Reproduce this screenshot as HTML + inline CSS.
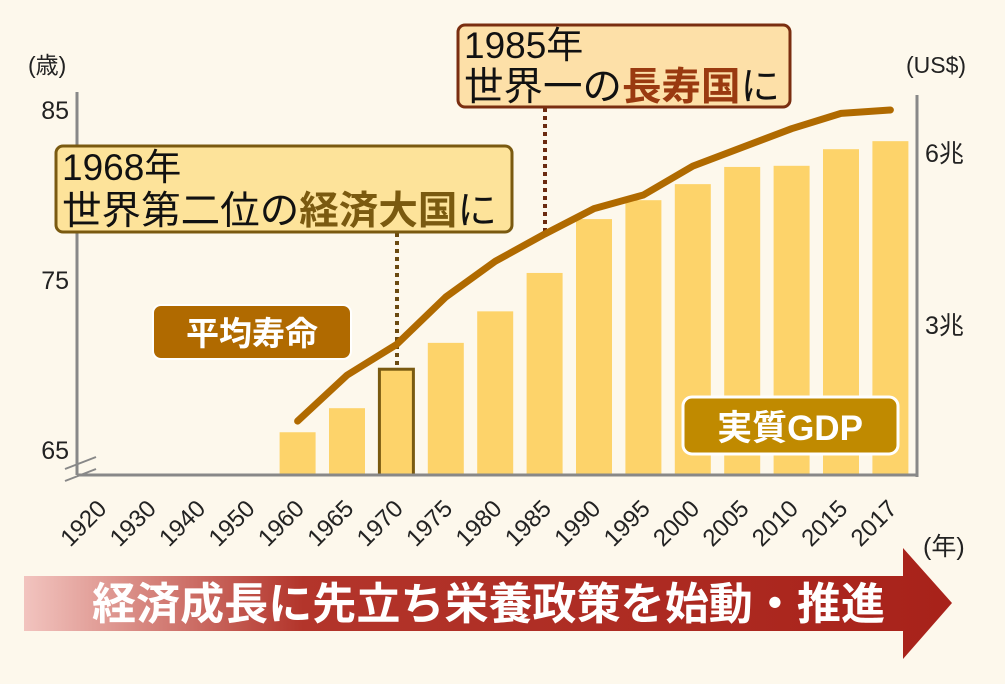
<!DOCTYPE html>
<html><head><meta charset="utf-8"><style>
html,body{margin:0;padding:0;background:#fdf8ec;}
svg{display:block;font-family:"Liberation Sans","Noto Sans CJK JP",sans-serif;}
</style></head><body>
<svg id="c" width="1005" height="684" viewBox="0 0 1005 684">
<defs>
<linearGradient id="ag" x1="0" x2="1" y1="0" y2="0">
<stop offset="0" stop-color="#f2c4bf"/><stop offset="0.3" stop-color="#b3352b"/><stop offset="1" stop-color="#a8221a"/>
</linearGradient>
</defs>
<rect width="1005" height="684" fill="#fdf8ec"/>
<g id="bars"></g>
<g id="grid"></g>
<line x1="77" y1="92" x2="77" y2="475" stroke="#888" stroke-width="3"/>
<line x1="917" y1="95" x2="917" y2="477" stroke="#888" stroke-width="3"/>
<line x1="77" y1="475" x2="918" y2="475" stroke="#888" stroke-width="3"/>
<line x1="65" y1="469" x2="96" y2="457" stroke="#888" stroke-width="2"/>
<line x1="65" y1="481" x2="96" y2="469" stroke="#888" stroke-width="2"/>
<text x="28" y="73" font-size="23" fill="#222">(歳)</text>
<text x="906" y="73" font-size="23" fill="#222">(US$)</text>
<text x="923" y="555" font-size="25" fill="#222">(年)</text>
<g id="dots">
<line x1="397" y1="233" x2="397" y2="367" stroke="#6b4a10" stroke-width="4" stroke-dasharray="4,4"/>
<line x1="545" y1="108" x2="545" y2="235" stroke="#6b2a10" stroke-width="4" stroke-dasharray="4,4"/>
</g>
<g id="line"></g>
<g>
<rect x="56" y="146" width="456" height="86" rx="7" fill="#fde39a" stroke="#7a5a10" stroke-width="3"/>
<text x="62" y="180" font-size="37" fill="#111">1968年</text>
<text x="62" y="224" font-size="39" fill="#111" textLength="435" lengthAdjust="spacingAndGlyphs">世界第二位の<tspan fill="#7a5a10" font-weight="bold">経済大国</tspan>に</text>
</g>
<g>
<rect x="458" y="25" width="332" height="82" rx="7" fill="#fde0a8" stroke="#7a2e10" stroke-width="3"/>
<text x="464" y="58" font-size="37" fill="#111">1985年</text>
<text x="464" y="100" font-size="39" fill="#111" textLength="316" lengthAdjust="spacingAndGlyphs">世界一の<tspan fill="#9a3a10" font-weight="bold">長寿国</tspan>に</text>
</g>
<g>
<rect x="153" y="305" width="198" height="54" rx="8" fill="#b06a00" stroke="#fff" stroke-width="2"/>
<text x="252" y="345" font-size="33" font-weight="bold" fill="#fff" text-anchor="middle">平均寿命</text>
</g>
<g>
<rect x="683" y="397" width="215" height="57" rx="9" fill="#c08a00" stroke="#fff" stroke-width="3"/>
<text x="790" y="440" font-size="35" font-weight="bold" fill="#fff" text-anchor="middle">実質GDP</text>
</g>
<g>
<polygon points="24,576 903,576 903,548 952,603 903,659 903,631 24,631" fill="url(#ag)"/>
<text x="92" y="619" font-size="44" font-weight="bold" fill="#fff" textLength="793" lengthAdjust="spacingAndGlyphs">経済成長に先立ち栄養政策を始動・推進</text>
</g>
</svg>
<script>
const years=["1920","1930","1940","1950","1960","1965","1970","1975","1980","1985","1990","1995","2000","2005","2010","2015","2017"];
const gdp=[null,null,null,null,1.13,1.55,2.23,2.69,3.24,3.91,4.85,5.18,5.46,5.76,5.78,6.07,6.21];
const life=[null,null,null,null,66.7,69.4,71.2,74.0,76.1,77.7,79.2,80.0,81.7,82.8,83.9,84.8,85.0];
const lifeTicks=[65,75,85];
const gdpTicks=[3,6];
const NS="http://www.w3.org/2000/svg";
const xc=i=>100+i*49.4;
const yL=v=>450-(v-65)*17;
const yG=v=>497-v*57.3;
const svg=document.getElementById('c');
function mk(t,a,p){const e=document.createElementNS(NS,t);for(const k in a)e.setAttribute(k,a[k]);(p||svg).appendChild(e);return e;}
const bars=document.getElementById('bars'),grid=document.getElementById('grid'),lg=document.getElementById('line');
gdp.forEach((v,i)=>{if(v==null)return;const y=yG(v);
const r=mk('rect',{x:xc(i)-18,y:y,width:36,height:475-y,fill:'#fdd36a'},bars);
if(years[i]==="1970"){r.setAttribute('stroke','#7a5a10');r.setAttribute('stroke-width','3');r.setAttribute('x',xc(i)-17);r.setAttribute('width',34);}

});
years.forEach((y,i)=>{const x=xc(i)+8,yy=510;
const t=mk('text',{x:x,y:yy,'font-size':24,fill:'#222','text-anchor':'end',transform:`rotate(-45 ${x} ${yy})`},grid);t.textContent=y;

});
lifeTicks.forEach(v=>{const t=mk('text',{x:69,y:yL(v)+9,'font-size':25,fill:'#222','text-anchor':'end'},grid);t.textContent=v;

});
gdpTicks.forEach(v=>{const t=mk('text',{x:925,y:yG(v)+9,'font-size':25,fill:'#222'},grid);t.textContent=v+'兆';

});
const pts=[];life.forEach((v,i)=>{if(v!=null)pts.push(xc(i)+','+yL(v));});
const pl=mk('polyline',{points:pts.join(' '),fill:'none',stroke:'#b06a00','stroke-width':7,'stroke-linecap':'round','stroke-linejoin':'round'},lg);


</script>
</body></html>
